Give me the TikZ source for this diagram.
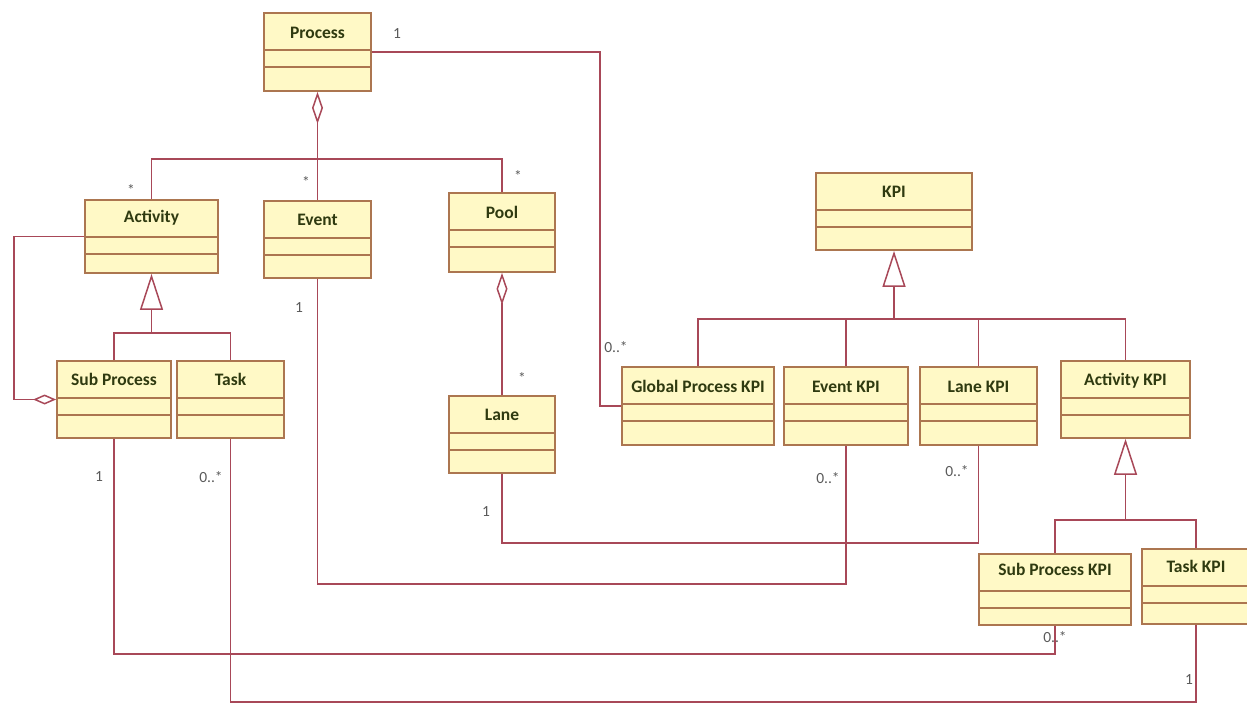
\documentclass[tikz,border=0pt]{standalone}
\usepackage{fontspec}
\setmainfont{Carlito}
\usetikzlibrary{arrows.meta}
\definecolor{clsfill}{RGB}{255,249,198}
\definecolor{clsline}{RGB}{172,118,80}
\definecolor{assocline}{RGB}{168,72,88}
\definecolor{clstext}{RGB}{47,58,16}
\definecolor{multtext}{RGB}{90,90,90}

\begin{document}
\begin{tikzpicture}[x=1pt, y=-1pt,
  cls/.style = {rectangle, draw=clsline, fill=clsfill, line width=1.8pt,% class box, name in top part
                inner sep=0pt, minimum height=77pt,
                text height=12pt, text depth=40pt,
                font=\fontsize{17.5}{20}\selectfont\bfseries, text=clstext},
  cmp/.style = {draw=clsline, line width=1.8pt},% compartment lines
assoc/.style = {draw=assocline, line width=1.5pt},
 aggr/.style = {{Diamond[length=#1, width=11pt, fill=white]}-},
 aggr/.default=32pt,
  gen/.style = {-{Triangle[length=36pt, width=23pt, fill=white]}},
 mult/.style = {font=\fontsize{15.5}{17}\selectfont, text=multtext, inner sep=1pt},
                    ]
\useasboundingbox (0,0) rectangle (1247,702);
% classes of the process model
\node[cls, minimum width=107pt, minimum height=78pt] (proc) at (317.5,52) {Process};
\node[cls, minimum width=133pt, minimum height=73pt] (act)  at (151.5,236.5) {Activity};
\node[cls, minimum width=107pt] (evt)  at (317.5,239.5) {Event};
\node[cls, minimum width=106pt, minimum height=79pt] (pool) at (502,232.5) {Pool};
\node[cls, minimum width=114pt] (subp) at (114,399.5) {Sub Process};
\node[cls, minimum width=107pt] (task) at (230.5,399.5) {Task};
\node[cls, minimum width=106pt] (lane) at (502,434.5) {Lane};
% classes of the KPI model
\node[cls, minimum width=156pt] (kpi)   at (894,211.5) {KPI};
\node[cls, minimum width=152pt, minimum height=78pt] (gkpi)  at (698,406) {Global Process KPI};
\node[cls, minimum width=124pt, minimum height=78pt] (ekpi)  at (846,406) {Event KPI};
\node[cls, minimum width=117pt, minimum height=78pt] (lkpi)  at (978.5,406) {Lane KPI};
\node[cls, minimum width=129pt] (akpi)  at (1125.5,399.5) {Activity KPI};
\node[cls, minimum width=152pt, minimum height=71pt] (spkpi) at (1055,589.5) {Sub Process KPI};
\node[cls, minimum width=108pt, minimum height=75pt] (tkpi)  at (1196,586.5) {Task KPI};
\foreach \n in {proc,act,evt,pool,subp,task,lane,kpi,gkpi,ekpi,lkpi,akpi,spkpi,tkpi}
  {
  \draw[cmp] ([yshift=-38pt]\n.north west) -- ([yshift=-38pt]\n.north east);
  \draw[cmp] ([yshift=-55pt]\n.north west) -- ([yshift=-55pt]\n.north east);
  }
% aggregations
\coordinate (agg) at (317.5,159);
\draw[assoc] (act.north) |- (agg) -| (pool.north);
\draw[assoc, aggr] (proc.south) -- (evt.north);
\draw[assoc, aggr] (pool.south) -- (lane.north);
\draw[assoc, -{Diamond[length=23pt, width=10pt, fill=white]}]
      (act.west) -- ++(-70,0) |- (subp.west);
% generalizations
\coordinate (gen1) at (151.5,333);
\coordinate (gen2) at (894,319);
\coordinate (gen3) at (1125.5,520);
\draw[assoc] (subp.north) |- (gen1) -| (task.north);
\draw[assoc, gen] (gen1) -- (act.south);
\draw[assoc] (gkpi.north) |- (gen2) -| (akpi.north);
\draw[assoc] (ekpi.north) -- (ekpi.north |- gen2);
\draw[assoc] (lkpi.north) -- (lkpi.north |- gen2);
\draw[assoc, gen] (gen2) -- (kpi.south);
\draw[assoc] (spkpi.north) |- (gen3) -| (tkpi.north);
\draw[assoc, gen] (gen3) -- (akpi.south);
% associations to the KPIs
\draw[assoc] (proc.east) -| ([xshift=-21pt]gkpi.west) -- (gkpi.west);
\draw[assoc] (evt.south) -- ++(0,305) -| (ekpi.south);
\draw[assoc] (lane.south) -- ++(0,69) -| (lkpi.south);
\draw[assoc] (subp.south) -- ++(0,215) -| (spkpi.south);
\draw[assoc] (task.south) -- ++(0,263) -| (tkpi.south);
% multiplicities
\node[mult] (m1)  at (397,34)   {1};
\node[mult] (m2)  at (616,347)  {0..*};
\node[mult] (m3)  at (131,190)  {*};
\node[mult] (m4)  at (306,182)  {*};
\node[mult] (m5)  at (518,176)  {*};
\node[mult] (m6)  at (522,378)  {*};
\node[mult] (m7)  at (299,308)  {1};
\node[mult] (m8)  at (828,478)  {0..*};
\node[mult] (m9)  at (486,512)  {1};
\node[mult] (m10) at (957,471)  {0..*};
\node[mult] (m11) at (99,477)   {1};
\node[mult] (m12) at (211,477)  {0..*};
\node[mult] (m13) at (1055,637) {0..*};
\node[mult] (m14) at (1189,680) {1};
\end{tikzpicture}
\end{document}
